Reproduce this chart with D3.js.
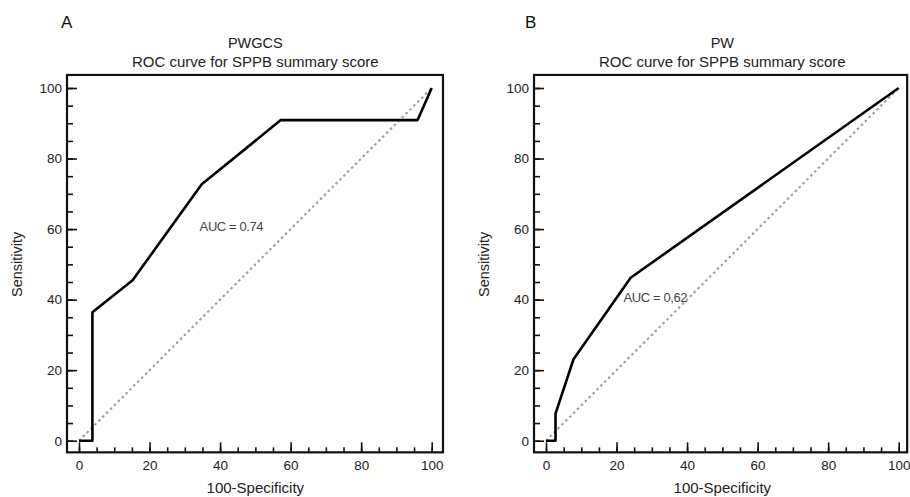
<!DOCTYPE html>
<html>
<head>
<meta charset="utf-8">
<script src="https://cdn.jsdelivr.net/npm/d3@7"></script>
<style>
  body { margin: 0; background: #fff; }
  svg { font-family: "Liberation Sans", Arial, sans-serif; }
  .axis path.domain { display: none; }
  .axis line { stroke: #111; stroke-width: 1.6px; }
  .axis text { font-size: 13.5px; fill: #222; }
</style>
</head>
<body>
<script>
var panelLetters = ['A', 'B'];
var panelTitles = ['PWGCS', 'PW'];
var subTitle = 'ROC curve for SPPB summary score';
var xLabel = '100-Specificity';
var yLabel = 'Sensitivity';
var majorTicks = [0, 20, 40, 60, 80, 100];
var minorTicks = d3.range(0, 101, 5);

// 100-specificity / sensitivity pairs
var fprA = [0, 3.8, 3.8, 15.2, 34.8, 57.2, 96, 100];
var sensA = [0, 0, 36.4, 45.5, 72.7, 90.9, 90.9, 100];
var fprB = [0, 2.7, 2.7, 7.8, 24, 100];
var sensB = [0, 0, 7.7, 23.1, 46.2, 100];
var aucLabels = ['AUC = 0.74', 'AUC = 0,62'];

var width = 910, height = 497;

var svg = d3.select('body').append('svg')
	.attr('width', width)
	.attr('height', height);

function drawPanel(i, fpr, sens, opts) {
	var x = d3.scaleLinear().domain([0, 100]).range([opts.x0, opts.x0 + 352.7]);
	var y = d3.scaleLinear().domain([0, 100]).range([440.7, 88]);
	var xMin = -3.4, xMax = opts.xMax, yMin = -3.3, yMax = 103.7;

	var g = svg.append('g');

	// letter + titles
	g.append('text')
		.attr('x', opts.letterX).attr('y', 28)
		.style('font-size', '17px').style('fill', '#111')
		.text(panelLetters[i]);
	g.append('text')
		.attr('x', x(50)).attr('y', 48)
		.attr('text-anchor', 'middle')
		.style('font-size', '14.5px').style('fill', '#222')
		.text(panelTitles[i]);
	g.append('text')
		.attr('x', x(50)).attr('y', 67)
		.attr('text-anchor', 'middle')
		.style('font-size', '15px').style('fill', '#222')
		.text(subTitle);

	// axes, ticks pointing inward
	g.append('g')
		.attr('class', 'axis')
		.attr('transform', 'translate(0,' + y(yMin) + ')')
		.call(d3.axisBottom(x).tickValues(minorTicks).tickSize(-5).tickFormat(''));
	g.append('g')
		.attr('class', 'axis')
		.attr('transform', 'translate(0,' + y(yMin) + ')')
		.call(d3.axisBottom(x).tickValues(majorTicks).tickSize(-10).tickPadding(8).tickFormat(d3.format('d')));
	g.append('g')
		.attr('class', 'axis')
		.attr('transform', 'translate(' + x(xMin) + ',0)')
		.call(d3.axisLeft(y).tickValues(minorTicks).tickSize(-6).tickFormat(''));
	g.append('g')
		.attr('class', 'axis')
		.attr('transform', 'translate(' + x(xMin) + ',0)')
		.call(d3.axisLeft(y).tickValues(majorTicks).tickSize(-10).tickPadding(5).tickFormat(d3.format('d')));

	// frame
	g.append('rect')
		.attr('x', x(xMin)).attr('y', y(yMax))
		.attr('width', x(xMax) - x(xMin))
		.attr('height', y(yMin) - y(yMax))
		.attr('fill', 'none')
		.attr('stroke', '#111')
		.attr('stroke-width', 2.2);

	// chance diagonal
	g.append('line')
		.attr('x1', x(0)).attr('y1', y(0))
		.attr('x2', x(100)).attr('y2', y(100))
		.attr('stroke', '#9a9a9a')
		.attr('stroke-width', 2)
		.attr('stroke-dasharray', '2.5,3');

	// ROC curve
	var pts = fpr.map(function(d, j) { return [d, sens[j]]; });
	g.append('path')
		.datum(pts)
		.attr('fill', 'none')
		.attr('stroke', '#000')
		.attr('stroke-width', 2.6)
		.attr('stroke-linejoin', 'round')
		.attr('d', d3.line()
			.x(function(d) { return x(d[0]); })
			.y(function(d) { return y(d[1]); }));

	g.append('text')
		.attr('x', x(opts.aucAt[0])).attr('y', y(opts.aucAt[1]))
		.attr('dy', '0.35em')
		.style('font-size', '13px').style('fill', '#444')
		.style('letter-spacing', '-0.4px')
		.text(aucLabels[i]);

	// axis titles
	g.append('text')
		.attr('x', x(50)).attr('y', 493)
		.attr('text-anchor', 'middle')
		.style('font-size', '15px').style('fill', '#222')
		.text(xLabel);
	g.append('text')
		.attr('transform', 'translate(' + (opts.x0 - 57) + ',' + y(50) + ') rotate(-90)')
		.attr('text-anchor', 'middle')
		.style('font-size', '14.5px').style('fill', '#222')
		.text(yLabel);
}

drawPanel(0, fprA, sensA, { x0: 79, xMax: 103.2, letterX: 61, aucAt: [34.2, 60.8] });
drawPanel(1, fprB, sensB, { x0: 546, xMax: 102.4, letterX: 525, aucAt: [22, 40.7] });
</script>
</body>
</html>
